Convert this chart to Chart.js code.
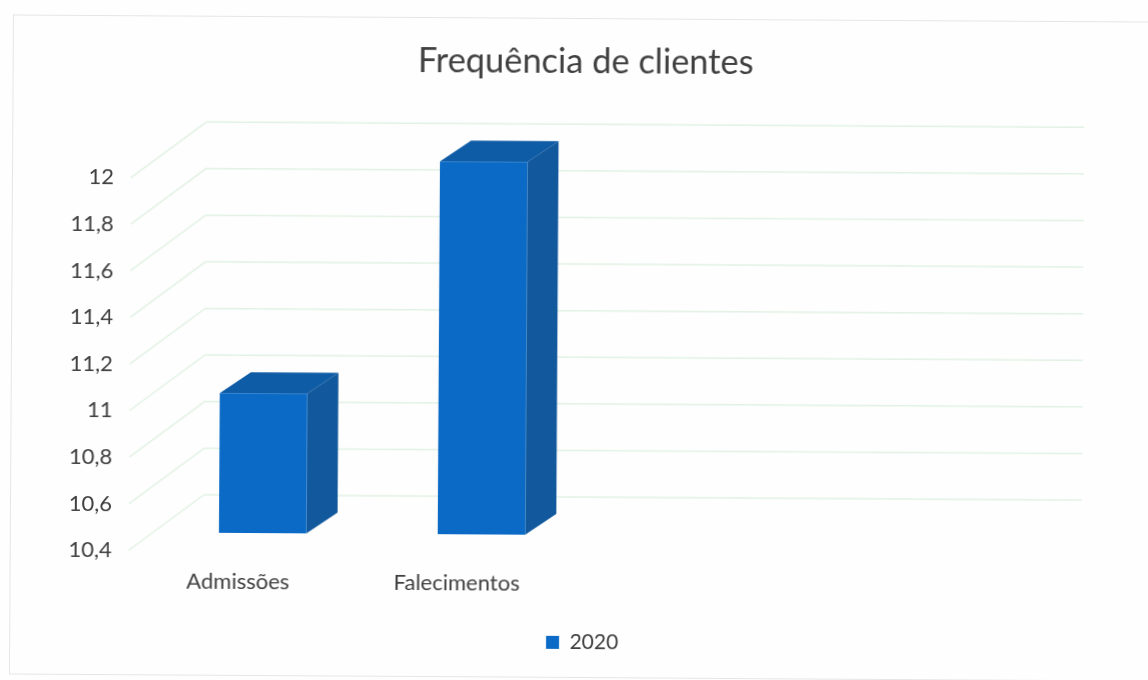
<!DOCTYPE html>
<html lang="pt">
<head>
<meta charset="utf-8">
<title>Frequência de clientes</title>
<script src="https://cdn.jsdelivr.net/npm/chart.js@4/dist/chart.umd.min.js"></script>
<style>
html,body{margin:0;padding:0;width:1148px;height:680px;overflow:hidden;background:#fefefe}
#page{position:absolute;left:0;top:0;width:1148px;height:680px;transform:rotate(0.35deg);transform-origin:574px 340px}
#frame{position:absolute;left:11px;top:18px;width:1300px;height:660px;border:1px solid #e6e6e6;border-right:none;box-sizing:border-box}
#chart{position:absolute;left:20px;top:0}
</style>
</head>
<body>
<div id="page">
<div id="frame"></div>
<canvas id="chart" width="1128" height="680"></canvas>
</div>
<script>
const categories = ['Admissões', 'Falecimentos', '', ''];
const seriesName = '2020';
const seriesValues = [11, 12, null, null];
const chartTitle = 'Frequência de clientes';
const axisMin = 10.4;
const axisMax = 12;
const axisStep = 0.2;

const FONT = 'Lato, "Open Sans", sans-serif';
const FRONT = '#0a6ac6';
const TOP = '#0e5ba6';
const SIDE = '#11589c';
const GRID = '#e2f2e4';
const WALL = { dx: 75, dy: -56, extend: 3 };
const BAR_SHIFT = { dx: 24.5, dy: -18 };
const BAR_DEPTH = { dx: 31, dy: -21 };

const depth3d = {
  id: 'depth3d',
  beforeDatasetsDraw(chart) {
    const { ctx, chartArea, scales } = chart;
    ctx.save();
    ctx.strokeStyle = GRID;
    ctx.lineWidth = 1.5;
    scales.y.ticks.forEach(t => {
      const y = scales.y.getPixelForValue(t.value);
      ctx.beginPath();
      ctx.moveTo(chartArea.left, y);
      ctx.lineTo(chartArea.left + WALL.dx, y + WALL.dy);
      ctx.lineTo(chartArea.right + WALL.dx + WALL.extend, y + WALL.dy);
      ctx.stroke();
    });
    ctx.restore();
    ctx.save();
    ctx.translate(BAR_SHIFT.dx, BAR_SHIFT.dy);
    chart.getDatasetMeta(0).data.forEach((bar, i) => {
      if (seriesValues[i] === null) return;
      const p = bar.getProps(['x', 'y', 'base', 'width']);
      const l = p.x - p.width / 2, r = p.x + p.width / 2;
      ctx.fillStyle = TOP;
      ctx.beginPath();
      ctx.moveTo(l, p.y);
      ctx.lineTo(l + BAR_DEPTH.dx, p.y + BAR_DEPTH.dy);
      ctx.lineTo(r + BAR_DEPTH.dx, p.y + BAR_DEPTH.dy);
      ctx.lineTo(r, p.y);
      ctx.closePath();
      ctx.fill();
      ctx.fillStyle = SIDE;
      ctx.beginPath();
      ctx.moveTo(r, p.y);
      ctx.lineTo(r + BAR_DEPTH.dx, p.y + BAR_DEPTH.dy);
      ctx.lineTo(r + BAR_DEPTH.dx, p.base + BAR_DEPTH.dy);
      ctx.lineTo(r, p.base);
      ctx.closePath();
      ctx.fill();
    });
  },
  afterDatasetsDraw(chart) {
    chart.ctx.restore();
  }
};

new Chart(document.getElementById('chart'), {
  type: 'bar',
  data: {
    labels: categories,
    datasets: [{
      label: seriesName,
      data: seriesValues,
      base: axisMin,
      backgroundColor: FRONT,
      borderWidth: 0,
      categoryPercentage: 1,
      barPercentage: 0.4,
      clip: false
    }]
  },
  options: {
    responsive: false,
    animation: false,
    layout: { padding: { top: 41, left: 0, right: 0, bottom: 17 } },
    plugins: {
      tooltip: { enabled: false },
      title: {
        display: true,
        text: chartTitle,
        color: '#404040',
        font: { family: FONT, size: 34.4, weight: 'normal', lineHeight: 1.2 },
        padding: { top: 0, bottom: 98 }
      },
      legend: {
        position: 'bottom',
        labels: {
          color: '#404040',
          font: { family: FONT, size: 21 },
          boxWidth: 13,
          boxHeight: 13,
          padding: 10
        }
      }
    },
    scales: {
      x: {
        grid: { display: false },
        border: { display: false },
        ticks: {
          color: '#404040',
          font: { family: FONT, size: 22 },
          padding: 9.5,
          maxRotation: 0,
          autoSkip: false
        },
        afterFit(scale) { scale.height = 69; }
      },
      y: {
        min: axisMin,
        max: axisMax,
        grid: { display: false },
        border: { display: false },
        ticks: {
          stepSize: axisStep,
          color: '#404040',
          font: { family: FONT, size: 22 },
          padding: 9,
          callback: v => String(Math.round(v * 10) / 10).replace('.', ',')
        },
        afterFit(scale) { scale.width = 110; }
      },
      yRightSpace: {
        position: 'right',
        grid: { display: false },
        border: { display: false },
        ticks: { display: false },
        afterFit(scale) { scale.width = 143; }
      }
    }
  },
  plugins: [depth3d]
});
</script>
</body>
</html>
